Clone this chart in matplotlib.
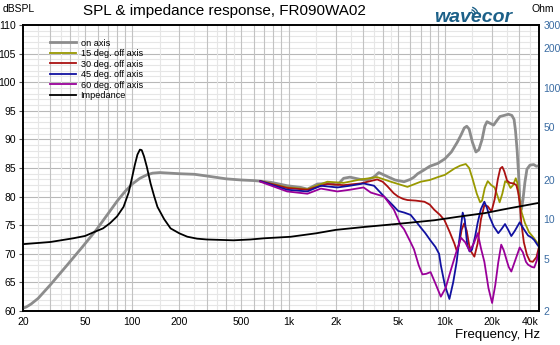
import numpy as np
import matplotlib
matplotlib.use('Agg')
import matplotlib.pyplot as plt
from matplotlib.patches import Arc
from matplotlib.ticker import FixedLocator, NullFormatter, NullLocator

plt.rcParams['font.family'] = ['Liberation Sans', 'DejaVu Sans']

# on-axis SPL, full range
f_on = [20, 21, 22.5, 25, 30, 38, 48, 59, 70, 80, 90, 100, 112, 124, 135, 150,
        200, 250, 300, 400, 500, 600, 660, 770, 980, 1200, 1320, 1530, 1800,
        2050, 2250, 2470, 2890, 3180, 3500, 3780, 4290, 4800, 5480, 6000, 6340,
        6700, 7300, 8000, 9000, 10000, 11000, 12000, 12700, 13300, 13800,
        14300, 15000, 15800, 16500, 17300, 18000, 18600, 19500, 20500, 21500,
        22500, 24000, 25500, 26800, 27700, 28300, 29000, 29600, 30300, 30900,
        31600, 32500, 33500, 35000, 37000, 38500, 40000]
spl_on = [60.5, 60.7, 61.2, 62.2, 64.6, 67.9, 71.2, 74.2, 77.0, 79.2, 80.9,
          82.2, 83.2, 83.8, 84.1, 84.2, 84.0, 83.9, 83.6, 83.1, 82.9, 82.8,
          82.7, 82.5, 81.9, 81.6, 81.3, 82.2, 82.3, 82.0, 83.2, 83.4, 83.0,
          82.9, 83.4, 84.2, 83.5, 82.9, 82.6, 83.0, 83.4, 84.0, 84.6, 85.3,
          85.8, 86.6, 87.8, 89.5, 90.8, 92.0, 92.3, 91.8, 89.5, 87.8, 88.2,
          90.0, 92.3, 93.1, 92.8, 92.5, 93.3, 94.0, 94.2, 94.4, 94.2, 93.5,
          91.5, 88.0, 84.0, 78.3, 77.8, 79.5, 82.5, 84.8, 85.5, 85.6, 85.3,
          85.4]

# off-axis SPL, measured from 660 Hz up
f_15 = [660, 980, 1320, 1770, 2250, 2890, 3690, 4510, 5760, 7000, 8000, 9000,
        10000, 11500, 12500, 13600, 14300, 15000, 16000, 16800, 17300, 18000,
        18800, 19800, 20800, 21600, 22400, 23300, 24300, 25300, 26300, 27300,
        28400, 29000, 30000, 31000, 32500, 34500, 37000, 40000]
spl_15 = [82.7, 81.6, 81.3, 82.6, 82.4, 83.0, 83.4, 82.6, 81.7, 82.6, 82.9,
          83.4, 83.8, 84.9, 85.4, 85.7, 85.0, 83.2, 80.5, 79.0, 79.3, 81.5,
          82.7, 82.0, 81.6, 80.3, 79.0, 80.5, 82.7, 82.4, 81.5, 82.0, 83.2,
          82.5, 79.5, 77.2, 75.4, 73.8, 72.8, 71.5]

f_30 = [660, 980, 1320, 1770, 2250, 2890, 3690, 4000, 4290, 4700, 5020, 5400,
        5760, 6500, 7400, 8000, 8550, 9300, 9930, 10700, 11500, 11880, 12300,
        12800, 13280, 13800, 14300, 14700, 15440, 16200, 17000, 17890, 18800,
        19870, 20800, 21800, 22600, 23300, 24000, 25000, 26000, 27500, 28650,
        29400, 30100, 30800, 32000, 33500, 35000, 36500, 38500, 40000]
spl_30 = [82.7, 81.5, 81.2, 82.2, 82.0, 82.3, 83.0, 82.6, 81.8, 80.6, 80.0,
          79.6, 79.4, 79.3, 79.1, 78.6, 77.7, 76.8, 75.9, 73.9, 71.8, 70.6,
          71.5, 74.2, 75.3, 74.0, 71.5, 70.4, 69.5, 71.8, 76.0, 78.5, 78.3,
          77.4, 79.5, 83.0, 84.9, 85.2, 84.4, 82.8, 82.4, 82.3, 82.0, 80.8,
          79.0, 75.5, 72.0, 69.8, 68.7, 68.6, 69.4, 71.2]

f_45 = [660, 980, 1320, 1610, 2050, 2470, 3020, 3520, 4090, 4600, 5020, 5500,
        6040, 6690, 7000, 7500, 8100, 8700, 9180, 9420, 10000, 10690, 11300,
        11880, 12500, 13000, 13400, 13900, 14400, 14900, 15600, 16230, 17000,
        17890, 18600, 19300, 20500, 21950, 23000, 24250, 25400, 26600, 28000,
        30100, 32000, 34040, 36000, 37300, 39000, 40000]
spl_45 = [82.7, 81.2, 80.9, 81.9, 81.6, 81.9, 82.3, 81.9, 80.0, 78.6, 77.5,
          77.2, 76.8, 75.3, 74.6, 73.6, 72.3, 71.2, 70.0, 68.0, 64.5, 62.1,
          65.0, 68.5, 73.5, 77.2, 76.0, 71.5, 70.4, 70.7, 73.0, 75.5, 77.8,
          79.1, 78.0, 76.5, 74.8, 73.6, 74.3, 75.2, 74.2, 73.1, 74.0, 75.5,
          74.3, 73.2, 72.8, 72.4, 71.6, 71.2]

f_60 = [660, 980, 1320, 1610, 2050, 2470, 3020, 3360, 4090, 4720, 5220, 5480,
        6040, 6340, 6800, 7180, 7600, 8100, 8700, 9420, 10100, 10930, 11800,
        12690, 13500, 14400, 15300, 16230, 17000, 17890, 19000, 20050, 21000,
        21950, 22930, 23800, 24700, 25600, 26600, 28300, 30100, 31500, 33000,
        34040, 36000, 37300, 38700, 40000]
spl_60 = [82.6, 80.9, 80.5, 81.4, 80.9, 81.2, 81.6, 80.7, 80.0, 77.7, 75.0,
          74.3, 72.0, 70.8, 68.0, 66.4, 66.5, 66.8, 64.8, 62.5, 64.0, 67.2,
          70.2, 72.8, 72.0, 70.5, 71.8, 73.6, 71.0, 68.6, 64.0, 61.4, 64.5,
          68.5, 71.6, 70.6, 69.1, 67.7, 66.9, 69.0, 71.1, 70.3, 68.6, 68.1,
          67.7, 67.6, 68.8, 70.5]

# impedance magnitude
f_imp = [20, 30, 42, 50, 56, 65, 72, 80, 88, 95, 100, 104, 108, 112, 115, 119,
         124, 131, 138, 145, 160, 176, 200, 225, 260, 300, 444, 571, 700, 1030,
         1500, 2000, 3000, 4090, 6000, 8550, 12000, 17900, 25000, 40000]
z_imp = [6.45, 6.7, 7.15, 7.45, 7.9, 8.5, 9.3, 10.5, 12.4, 16.0, 21.0, 26.0,
         31.0, 33.8, 33.5, 30.0, 25.0, 18.7, 15.0, 12.4, 10.0, 8.5, 7.8, 7.35,
         7.1, 7.0, 6.9, 7.0, 7.15, 7.34, 7.8, 8.28, 8.7, 9.0, 9.4, 9.8, 10.4,
         11.1, 12.0, 13.3]

series = [
    ('on axis', f_on, spl_on, '#8c8c8c', 2.0),
    ('15 deg. off axis', f_15, spl_15, '#999900', 1.3),
    ('30 deg. off axis', f_30, spl_30, '#aa1111', 1.3),
    ('45 deg. off axis', f_45, spl_45, '#1111a0', 1.3),
    ('60 deg. off axis', f_60, spl_60, '#990099', 1.3),
]

xticks = [20, 50, 100, 200, 500, 1000, 2000, 5000, 10000, 20000, 40000]
xlabels = ['20', '50', '100', '200', '500', '1k', '2k', '5k', '10k', '20k', '40k']
zticks = [2, 5, 10, 20, 50, 100, 200, 300]

fig = plt.figure(figsize=(5.6, 3.45), dpi=100)
ax = fig.add_axes([0.041, 0.0986, 0.9215, 0.8289])
ax.set_xscale('log')
ax.set_xlim(20, 40000)
ax.set_ylim(60, 110)

# grid: every 1 dB light, every 5 dB darker, log minor lines on frequency
for v in range(61, 110):
    c = '#b8b8b8' if v % 5 == 0 else '#e6e6e6'
    ax.axhline(v, color=c, lw=0.8, zorder=0)
for dec in [10, 100, 1000, 10000]:
    for m in range(1, 10):
        fv = dec * m
        if 20 < fv < 40000:
            ax.axvline(fv, color='#c2c2c2', lw=0.8, zorder=0)
    for m in [1.5, 2.5, 3.5, 4.5]:
        fv = dec * m
        if 20 < fv < 40000:
            ax.axvline(fv, color='#e6e6e6', lw=0.8, zorder=0)

lines = []
for name, fx, fy, col, lw in series:
    ln, = ax.plot(fx, fy, color=col, lw=lw, label=name, zorder=3)
    lines.append(ln)

ax.xaxis.set_major_locator(FixedLocator(xticks))
ax.set_xticklabels(xlabels)
ax.get_xticklabels()[-1].set_horizontalalignment('right')
ax.xaxis.set_minor_locator(NullLocator())
ax.set_yticks(range(60, 111, 5))
ax.tick_params(axis='both', labelsize=7.5, length=3, width=0.8, color='#555555',
               pad=2)
ax.tick_params(axis='x', length=0, pad=4)

for s in ax.spines.values():
    s.set_color('black')
    s.set_linewidth(1.2)

axz = ax.twinx()
axz.set_yscale('log')
axz.set_ylim(2, 300)
ln, = axz.plot(f_imp, z_imp, color='black', lw=1.3, label='Impedance', zorder=4)
lines.append(ln)
axz.yaxis.set_major_locator(FixedLocator(zticks))
axz.set_yticklabels([str(z) for z in zticks])
axz.yaxis.set_minor_locator(NullLocator())
axz.yaxis.set_minor_formatter(NullFormatter())
axz.tick_params(axis='y', labelsize=7.5, labelcolor='#3a6ca3', length=0, pad=3)
for s in axz.spines.values():
    s.set_linewidth(1.2)

leg = ax.legend(handles=lines, loc='upper left', bbox_to_anchor=(0.046, 0.965),
                frameon=False, fontsize=6.6, handlelength=2.8, handletextpad=0.5,
                labelspacing=0.16, borderaxespad=0)

fig.text(0.004, 0.975, 'dBSPL', fontsize=7.5, ha='left', va='center')
fig.text(0.99, 0.975, 'Ohm', fontsize=7.5, ha='right', va='center')
fig.text(0.4, 0.968, 'SPL & impedance response, FR090WA02', fontsize=11,
         ha='center', va='center')
fig.text(0.965, 0.03, 'Frequency, Hz', fontsize=9.5, ha='right', va='center')

# logo: word mark with small wave arcs over the "v"
logo = '#1c6088'
fig.text(0.845, 0.95, 'wavecor', fontsize=14, ha='center', va='center',
         style='italic', weight='bold', color=logo)
for r in [3.0, 5.5, 8.0]:
    fig.add_artist(Arc((470 / 560, 1 - 15 / 345), 2 * r / 560, 2 * r / 345,
                       theta1=10, theta2=80, color=logo, lw=1.0,
                       transform=fig.transFigure))

fig.savefig('out.png', dpi=100)
